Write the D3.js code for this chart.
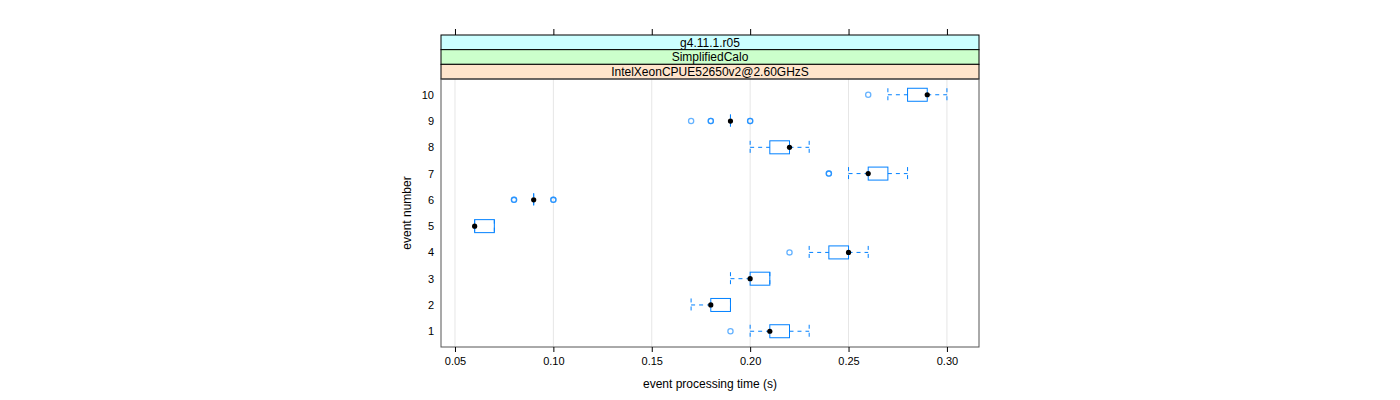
<!DOCTYPE html>
<html><head><meta charset="utf-8">
<script src="https://cdn.jsdelivr.net/npm/d3@7"></script>
<style>body{margin:0;background:#fff}svg{display:block;font-family:"Liberation Sans",Arial,sans-serif}</style>
</head><body>
<script>
const events = [1,2,3,4,5,6,7,8,9,10];
const medians   = [0.21,0.18,0.20,0.25,0.06,0.09,0.26,0.22,0.19,0.29];
const q1        = [0.21,0.18,0.20,0.24,0.06,0.09,0.26,0.21,0.19,0.28];
const q3        = [0.22,0.19,0.21,0.25,0.07,0.09,0.27,0.22,0.19,0.29];
const whiskerLo = [0.20,0.17,0.19,0.23,0.06,0.09,0.25,0.20,0.19,0.27];
const whiskerHi = [0.23,0.19,0.21,0.26,0.07,0.09,0.28,0.23,0.19,0.30];
const outliers  = [[0.19],[],[],[0.22],[],[0.08,0.08,0.10,0.10],[0.24,0.24],[],[0.17,0.18,0.18,0.20,0.20],[0.26]];
const xTicks = [0.05,0.10,0.15,0.20,0.25,0.30];
const strips = ["g4.11.1.r05","SimplifiedCalo","IntelXeonCPUE52650v2@2.60GHzS"];
const stripColors = ["#ccffff","#ccffcc","#ffe5cc"];

const W=1400,H=400;
const L=441,R=979,T=79,B=347;
const svg=d3.select("body").append("svg").attr("width",W).attr("height",H);
const x=d3.scaleLinear().domain([0.0429,0.3163]).range([L,R]);
const y=d3.scaleLinear().domain([0.4,10.6]).range([B,T]);
const blue="#0080ff";
const bh=13;

// gridlines
svg.append("g").selectAll("line").data(xTicks).join("line")
  .attr("x1",d=>x(d)).attr("x2",d=>x(d)).attr("y1",T).attr("y2",B)
  .attr("stroke","#e6e6e6").attr("stroke-width",1);

// strips
const sh=(T-35)/strips.length;
strips.forEach((s,i)=>{
  const y0=35+i*sh;
  svg.append("rect").attr("x",L).attr("y",y0).attr("width",R-L).attr("height",sh)
    .attr("fill",stripColors[i]).attr("stroke","#000").attr("stroke-width",1);
  svg.append("text").attr("x",(L+R)/2).attr("y",y0+sh/2).attr("dy","0.36em")
    .attr("text-anchor","middle").attr("font-size",12).text(s);
});

// panel border
svg.append("rect").attr("x",L).attr("y",T).attr("width",R-L).attr("height",B-T)
  .attr("fill","none").attr("stroke","#555").attr("stroke-width",1);

// axes
const xb=d3.axisBottom(x).tickValues(xTicks).tickFormat(d3.format(".2f")).tickSize(5).tickSizeOuter(0);
const gb=svg.append("g").attr("transform",`translate(0,${B})`).call(xb);
gb.select(".domain").remove();
gb.selectAll("text").attr("font-size",11).attr("font-family","Liberation Sans, Arial, sans-serif").attr("dy","0.9em");
const xt=d3.axisTop(x).tickValues(xTicks).tickFormat("").tickSize(6).tickSizeOuter(0);
const gt=svg.append("g").attr("transform",`translate(0,35)`).call(xt);
gt.select(".domain").remove();

const yl=d3.axisLeft(y).tickValues(events).tickFormat(d3.format("d")).tickSize(0);
const gl=svg.append("g").attr("transform",`translate(${L-4},0)`).call(yl);
gl.select(".domain").remove();
gl.selectAll("text").attr("font-size",11).attr("font-family","Liberation Sans, Arial, sans-serif");

svg.append("text").attr("x",(L+R)/2).attr("y",388).attr("text-anchor","middle").attr("font-size",12).text("event processing time (s)");
svg.append("text").attr("transform",`translate(411,${(T+B)/2}) rotate(-90)`).attr("text-anchor","middle").attr("font-size",12).text("event number");

const g=svg.append("g");
events.forEach((e,i)=>{
  const cy=y(e);
  // whiskers
  g.append("line").attr("x1",x(whiskerLo[i])).attr("x2",x(q1[i])).attr("y1",cy).attr("y2",cy)
    .attr("stroke",blue).attr("stroke-dasharray","4,4");
  g.append("line").attr("x1",x(q3[i])).attr("x2",x(whiskerHi[i])).attr("y1",cy).attr("y2",cy)
    .attr("stroke",blue).attr("stroke-dasharray","4,4");
  [whiskerLo[i],whiskerHi[i]].forEach(v=>{
    g.append("line").attr("x1",x(v)).attr("x2",x(v)).attr("y1",cy-bh/2).attr("y2",cy+bh/2)
      .attr("stroke",blue).attr("stroke-dasharray","4,4");
  });
  // box
  g.append("rect").attr("x",x(q1[i])).attr("y",cy-bh/2).attr("width",Math.max(0,x(q3[i])-x(q1[i]))).attr("height",bh)
    .attr("fill","none").attr("stroke",blue).attr("stroke-width",1);
  // outliers (overlapping duplicates appear bolder)
  outliers[i].forEach(v=>{
    g.append("circle").attr("cx",x(v)).attr("cy",cy).attr("r",2.6)
      .attr("fill","none").attr("stroke",blue).attr("stroke-width",1.3).attr("stroke-opacity",0.6);
  });
  // median
  g.append("circle").attr("cx",x(medians[i])).attr("cy",cy).attr("r",2.6).attr("fill","#000");
});
</script>
</body></html>
